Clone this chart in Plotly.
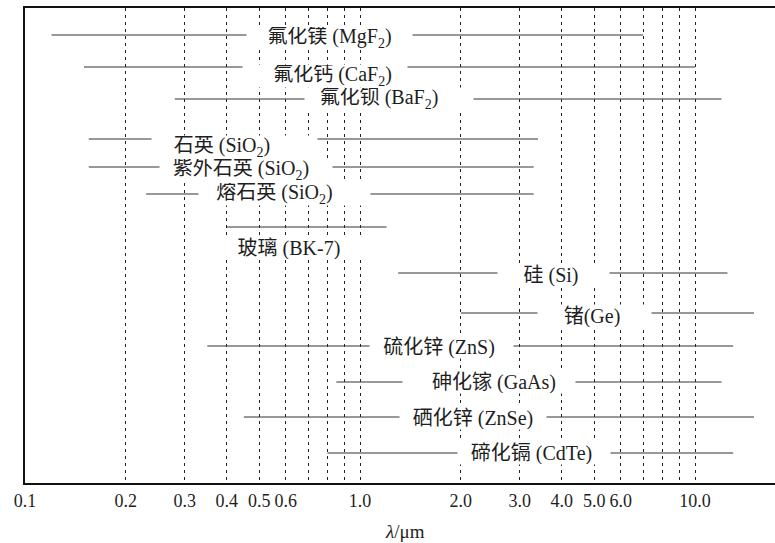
import math
import plotly.graph_objects as go

# ---------------- data ----------------
materials = [
    "氟化镁 (MgF<sub>2</sub>)",
    "氟化钙 (CaF<sub>2</sub>)",
    "氟化钡 (BaF<sub>2</sub>)",
    "石英 (SiO<sub>2</sub>)",
    "紫外石英 (SiO<sub>2</sub>)",
    "熔石英 (SiO<sub>2</sub>)",
    "玻璃 (BK-7)",
    "硅 (Si)",
    "锗(Ge)",
    "硫化锌 (ZnS)",
    "砷化镓 (GaAs)",
    "硒化锌 (ZnSe)",
    "碲化镉 (CdTe)",
]
start_um = [0.12, 0.15, 0.28, 0.155, 0.155, 0.23, 0.4, 1.3, 2.0, 0.35, 0.85, 0.45, 0.8]
end_um = [7.0, 10.0, 12.0, 3.4, 3.3, 3.3, 1.2, 12.5, 15.0, 13.0, 12.0, 15.0, 13.0]

tick_vals = [0.1, 0.2, 0.3, 0.4, 0.5, 0.6, 1.0, 2.0, 3.0, 4.0, 5.0, 6.0, 10.0]
tick_text = ["0.1", "0.2", "0.3", "0.4", "0.5", "0.6", "1.0",
             "2.0", "3.0", "4.0", "5.0", "6.0", "10.0"]
unlabeled_grid_vals = [0.7, 0.8, 0.9, 7.0, 8.0, 9.0]
axis_title = "<i>λ</i>/μm"

# ---------------- layout (positions in canvas pixels) ----------------
W, H = 775, 543
PLOT_L, PLOT_T, PLOT_B = 25, 8, 483
PX_PER_DECADE = 335.0

row_line_px = [35, 67, 99, 139, 167, 194, 227, 273, 313, 346, 382, 417, 453]
row_label_px = [38, 76, 99, 147, 170, 194, 248, 275, 316, 347, 382, 418, 453]
label_center_px = [329, 332, 378, 222, 240, 274, 289, 552, 592, 439, 493, 473, 532]
# white gap (left, right) cut into each line around its label
gap_px = [(247, 412), (243, 407), (305, 473), (152, 317), (160, 332), (199, 370), (214, 364),
          (498, 609), (538, 651), (370, 513), (403, 575), (400, 546), (458, 610)]
BOX_H = 22
NBSP_W = 5.0  # width of a no-break space at the label size


def px_to_log(px):
    return (px - PLOT_L) / PX_PER_DECADE - 1.0


def py(px):
    return px - PLOT_T


FONT = "Liberation Serif, 'Times New Roman', 'Noto Sans CJK SC', serif"
INK = "#1e1e1e"
GRID = dict(showgrid=True, gridcolor="#222222", gridwidth=1.3, griddash="3px,4px")

fig = go.Figure()
for name, a, b, yl in zip(materials, start_um, end_um, row_line_px):
    fig.add_trace(go.Scatter(
        x=[a, b], y=[py(yl), py(yl)], mode="lines",
        line=dict(color="#333333", width=1.2),
        showlegend=False, hoverinfo="skip", name=name,
    ))

annotations = []
for name, cx, ylab, gap in zip(materials, label_center_px, row_label_px, gap_px):
    gl, gr = gap
    gc = (gl + gr) / 2.0
    n = int(round(abs(cx - gc) / (NBSP_W / 2.0)))
    pad = "\u00a0" * n
    text = (pad + name) if cx > gc else (name + pad)
    annotations.append(dict(
        x=px_to_log(gc), y=py(ylab), xref="x", yref="y",
        text=text, showarrow=False, bgcolor="white",
        width=gr - gl, height=BOX_H, borderpad=0,
        font=dict(family=FONT, size=20, color=INK),
    ))
# axis title
annotations.append(dict(
    x=(405 - PLOT_L) / (W - PLOT_L), y=(PLOT_B - 531) / (PLOT_B - PLOT_T),
    xref="paper", yref="paper", xanchor="center", yanchor="middle",
    text=axis_title, showarrow=False,
    font=dict(family=FONT, size=19, color=INK),
))

fig.update_layout(
    width=W, height=H,
    margin=dict(l=PLOT_L, r=0, t=PLOT_T, b=H - PLOT_B),
    paper_bgcolor="white", plot_bgcolor="white",
    annotations=annotations,
    xaxis=dict(
        type="log", range=[-1.0, px_to_log(W)],
        tickmode="array", tickvals=tick_vals, ticktext=tick_text,
        minor=dict(tickmode="array", tickvals=unlabeled_grid_vals, ticks="", **GRID),
        showline=True, mirror=True, linecolor="#111111", linewidth=2,
        ticks="", zeroline=False,
        tickfont=dict(family=FONT, size=18, color=INK),
        **GRID,
    ),
    yaxis=dict(
        range=[py(PLOT_B), 0], showgrid=False, zeroline=False,
        showticklabels=False, ticks="",
        showline=True, linecolor="#111111", linewidth=2,
    ),
)

fig.write_html("out.html", config={"displayModeBar": False},
               post_script="document.body.style.margin='0px';")
